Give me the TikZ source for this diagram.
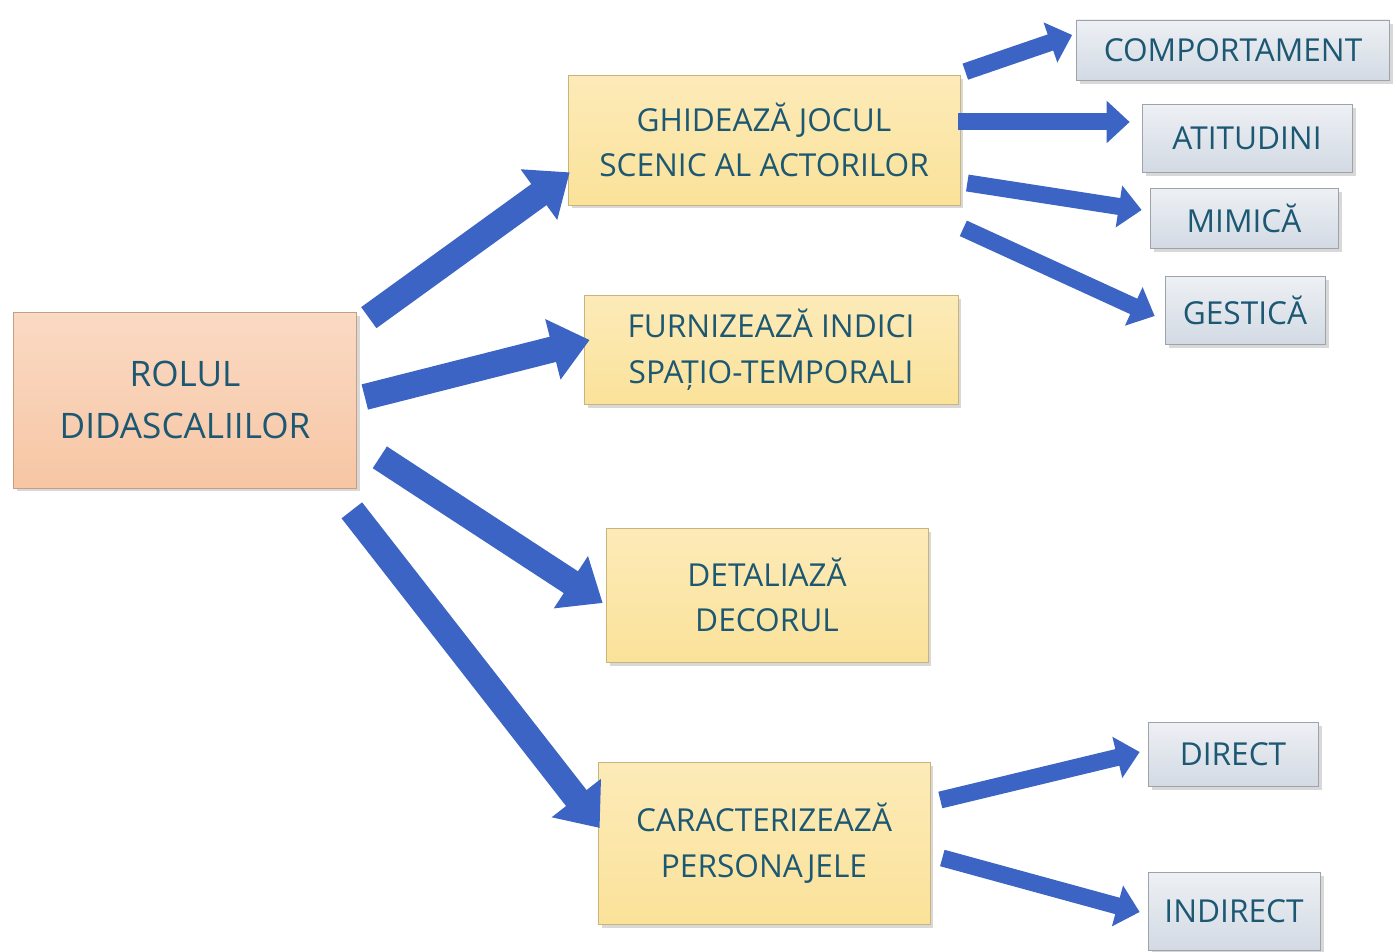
\documentclass[tikz,border=0pt]{standalone}
\usepackage{fontspec}
\setmainfont{Open Sans}
\usetikzlibrary{arrows.meta,shadows}

\definecolor{arrowblue}{HTML}{3C64C4}
\definecolor{textteal}{HTML}{1D5873}
\definecolor{peach}{HTML}{F7C6A4}
\definecolor{gold}{HTML}{FBE29A}
\definecolor{steel}{HTML}{D3DAE4}

\tikzset{
  card/.style={rectangle, align=center, text=textteal,
    font=\fontsize{18}{26}\selectfont,
    drop shadow={shadow xshift=2pt, shadow yshift=-2pt, opacity=.3}},
  rolbox/.style={card, draw=peach!80!black, top color=peach!65, bottom color=peach,
    font=\fontsize{20}{30}\selectfont},
  mainbox/.style={card, draw=gold!80!black, top color=gold!70, bottom color=gold},
  leafbox/.style={card, draw=steel!75!black, top color=steel!40, bottom color=steel},
  bigarrow/.style={draw=arrowblue!85!black, line width=0.52cm, arrowblue,
    -{Triangle[length=0.76cm,width=1.2cm]}},
  smallarrow/.style={draw=arrowblue!85!black, line width=0.34cm, arrowblue,
    -{Triangle[length=0.46cm,width=0.82cm]}}
}

\begin{document}
\begin{tikzpicture}[x=0.02cm,y=-0.02cm]
  \useasboundingbox[fill=white] (0,0) rectangle (1396,952);

  % left column
  \node[rolbox, minimum width=6.86cm, minimum height=3.52cm] (rol) at (185,400)
    {ROLUL\\DIDASCALIILOR};

  % middle column
  \node[mainbox, minimum width=7.84cm, minimum height=2.6cm] (ghid) at (764,140)
    {GHIDEAZĂ JOCUL\\SCENIC AL ACTORILOR};
  \node[mainbox, minimum width=7.48cm, minimum height=2.18cm] (furn) at (771,350)
    {FURNIZEAZĂ INDICI\\SPAȚIO-TEMPORALI};
  \node[mainbox, minimum width=6.44cm, minimum height=2.68cm] (det) at (767,595)
    {DETALIAZĂ\\DECORUL};
  \node[mainbox, minimum width=6.64cm, minimum height=3.24cm] (car) at (764,843)
    {CARACTERIZEAZĂ\\PERSONAJELE};

  % right column
  \node[leafbox, minimum width=6.26cm, minimum height=1.2cm] (comp) at (1233,50) {COMPORTAMENT};
  \node[leafbox, minimum width=4.2cm, minimum height=1.36cm] (atit) at (1247,138) {ATITUDINI};
  \node[leafbox, minimum width=3.76cm, minimum height=1.2cm] (mim) at (1244,218) {MIMICĂ};
  \node[leafbox, minimum width=3.2cm, minimum height=1.36cm] (gest) at (1245,310) {GESTICĂ};
  \node[leafbox, minimum width=3.4cm, minimum height=1.28cm] (dir) at (1233,754) {DIRECT};
  \node[leafbox, minimum width=3.44cm, minimum height=1.56cm] (ind) at (1234,911) {INDIRECT};

  % arrows out of the role box
  \draw[bigarrow] ([shift={(12,6)}]rol.north east) -- ([shift={(2,-33)}]ghid.south west);
  \draw[bigarrow] ([shift={(8,-3)}]rol.east) -- ([shift={(6,-10)}]furn.west);
  \draw[bigarrow] ([shift={(23,-31)}]rol.south east) -- ([shift={(-3,8)}]det.west);
  \draw[bigarrow] ([shift={(-5,22)}]rol.south east) -- ([shift={(2,-15)}]car.west);

  % arrows to the leaves
  \draw[smallarrow] ([shift={(5,-3)}]ghid.north east) -- ([shift={(-4,-15)}]comp.west);
  \draw[smallarrow] ([shift={(-2,-18)}]ghid.east) -- ([shift={(-12,-16)}]atit.west);
  \draw[smallarrow] ([shift={(7,43)}]ghid.east) -- ([shift={(-8,-8)}]mim.west);
  \draw[smallarrow] ([shift={(3,23)}]ghid.south east) -- ([shift={(-10,6)}]gest.west);
  \draw[smallarrow] ([shift={(10,-43)}]car.east) -- ([shift={(-8,-2)}]dir.west);
  \draw[smallarrow] ([shift={(12,15)}]car.east) -- ([shift={(-8,1)}]ind.west);
\end{tikzpicture}
\end{document}
